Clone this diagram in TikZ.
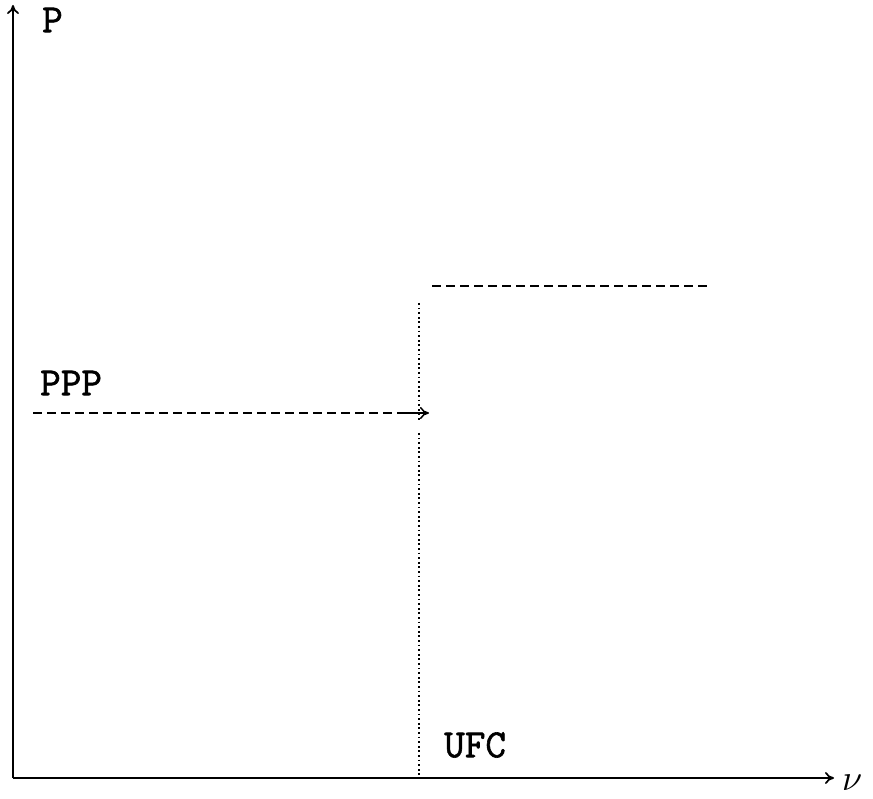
\documentclass[tikz,border=0pt]{standalone}
\usepackage{fontspec}
\usepackage{graphicx}
\newfontfamily\ttlbl[FakeBold=1.5]{Latin Modern Mono}
\usetikzlibrary{arrows.meta}
\begin{document}
\begin{tikzpicture}[x=1pt,y=-1pt,
  axis/.style={line width=1.7pt,-{To[length=9pt,width=12pt]}},
  lbl/.style={font=\ttlbl\fontsize{40}{46}\selectfont,inner sep=0pt},
  dash line/.style={line width=1.5pt,dash pattern=on 9pt off 5pt},
  dot line/.style={line width=1.4pt,dash pattern=on 1.8pt off 2.8pt}]
\useasboundingbox (0,0) rectangle (873,799);
\coordinate (O) at (13,778);
\coordinate (ytop) at (13,5);
\coordinate (xend) at (834,778);
\draw[axis] (O) -- (ytop);
\draw[axis] (O) -- (xend);
\node[lbl,anchor=west] (P) at (42,20) {P};
\node[inner sep=0pt,anchor=west] (nu) at (842,783) {\scalebox{3.6}{$\nu$}};
\node[lbl,anchor=west] (PPP) at (40,383) {PPP};
\node[lbl,anchor=west] (UFC) at (444,745) {UFC};
\coordinate (a1) at (33,413);
\coordinate (a0) at (406,413);
\coordinate (a2) at (429,413);
\draw[dash line] (a1) -- (a0);
\draw[line width=1.5pt,-{To[length=9pt,width=12pt]}] (a0) -- (a2);
\coordinate (t1) at (432,286);
\coordinate (t2) at (707,286);
\draw[dash line] (t1) -- (t2);
\coordinate (d1) at (419,303);
\coordinate (d2) at (419,421);
\coordinate (d3) at (419,433);
\coordinate (d4) at (419,778);
\draw[dot line] (d1) -- (d2);
\draw[dot line] (d3) -- (d4);
\end{tikzpicture}
\end{document}
